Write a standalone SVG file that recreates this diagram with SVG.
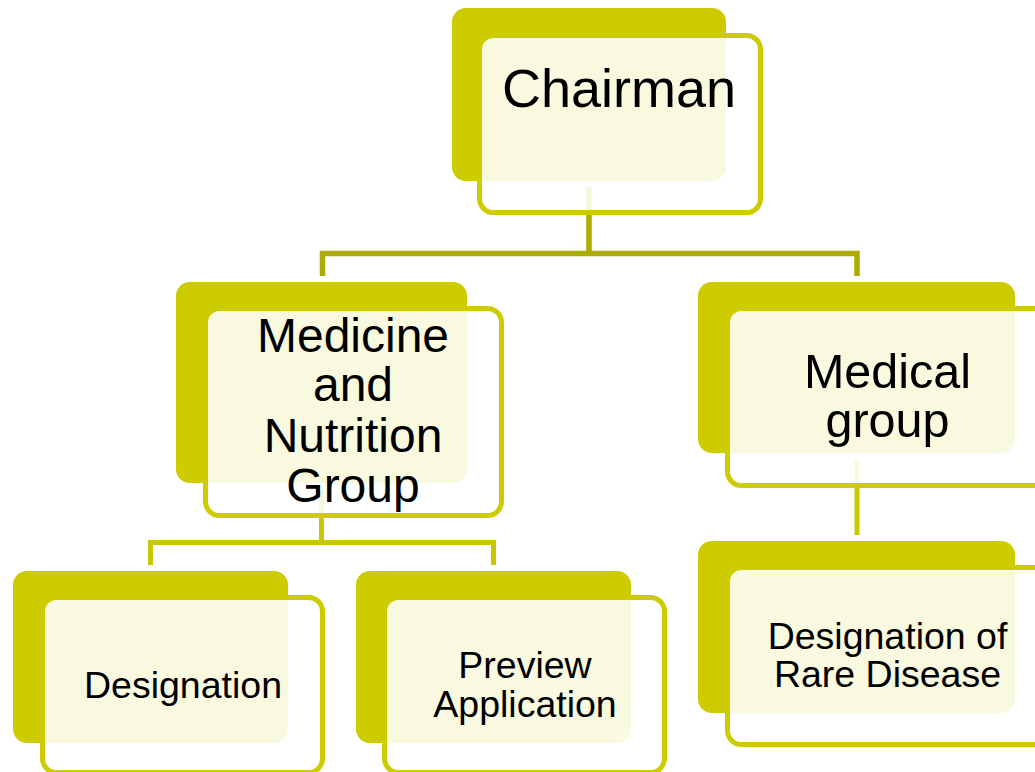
<svg xmlns="http://www.w3.org/2000/svg" width="1035" height="772" viewBox="0 0 1035 772">
<style>
.back{fill:#CCCC00;}
.front{fill:#FFFFFF;fill-opacity:0.88;stroke:#CCCC00;stroke-width:5;}
.lbl{font-family:"Liberation Sans",Arial,sans-serif;fill:#000;text-anchor:middle;}
.c1{fill:none;stroke:#ABAB00;stroke-width:5.5;}
.c2{fill:none;stroke:#C8C800;stroke-width:5;}
</style>
<rect width="1035" height="772" fill="#FFFFFF"/>
<g id="connectors">
<path class="c1" d="M589,187 V253.5 M322.5,276 V253.5 H857 V276"/>
<path class="c2" d="M321.5,490 V542.5 M150.5,565 V542.5 H493.5 V565"/>
<path class="c2" d="M857,460 V535"/>
</g>
<g id="chairman">
<rect class="back" x="452" y="8" width="274" height="173" rx="14"/>
<rect class="front" x="479.5" y="35.5" width="281" height="177" rx="14"/>
<text class="lbl" x="619" y="107" font-size="54">Chairman</text>
</g>
<g id="medicine">
<rect class="back" x="176" y="282" width="291" height="201" rx="14"/>
<rect class="front" x="205.5" y="308.5" width="296" height="207" rx="14"/>
<text class="lbl" font-size="48"><tspan x="353" y="352">Medicine</tspan><tspan x="353" y="401">and</tspan><tspan x="353" y="452">Nutrition</tspan><tspan x="353" y="502">Group</tspan></text>
</g>
<g id="medical">
<rect class="back" x="698" y="282" width="317" height="171" rx="14"/>
<rect class="front" x="727.5" y="308.5" width="322" height="177" rx="14"/>
<text class="lbl" font-size="48.5"><tspan x="887.5" y="388">Medical</tspan><tspan x="887.5" y="437">group</tspan></text>
</g>
<g id="designation">
<rect class="back" x="13" y="571" width="275" height="172" rx="14"/>
<rect class="front" x="42.5" y="597.5" width="280" height="175" rx="14"/>
<text class="lbl" x="183" y="698" font-size="37.5">Designation</text>
</g>
<g id="preview">
<rect class="back" x="356" y="571" width="275" height="172" rx="14"/>
<rect class="front" x="384.5" y="597.5" width="280" height="175" rx="14"/>
<text class="lbl" font-size="37.5"><tspan x="525" y="678">Preview</tspan><tspan x="525" y="717">Application</tspan></text>
</g>
<g id="rare">
<rect class="back" x="698" y="541" width="317" height="172" rx="14"/>
<rect class="front" x="727.5" y="567.5" width="322" height="177" rx="14"/>
<text class="lbl" font-size="37.5"><tspan x="887.5" y="649">Designation of</tspan><tspan x="887.5" y="687">Rare Disease</tspan></text>
</g>
</svg>
